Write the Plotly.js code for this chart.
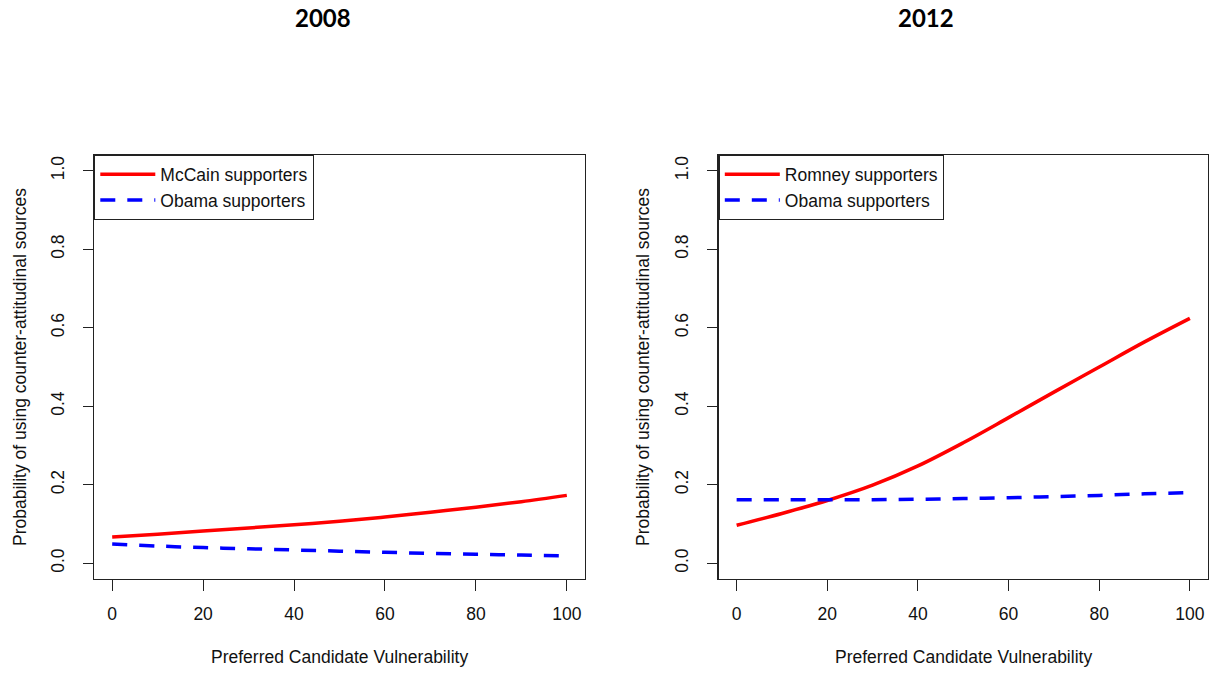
<!DOCTYPE html>
<html><head><meta charset="utf-8">
<script src="https://cdn.plot.ly/plotly-3.0.1.min.js"></script>
<style>html,body{margin:0;padding:0;background:#fff}#chart{width:1212px;height:673px}</style>
</head><body><div id="chart"></div>
<script>
// ---- data ----
const vulnerability = [0, 10, 20, 30, 40, 50, 60, 70, 80, 90, 100];
const mccain2008 = [0.067, 0.074, 0.082, 0.090, 0.098, 0.107, 0.118, 0.130, 0.143, 0.157, 0.173];
const obama2008  = [0.049, 0.044, 0.040, 0.037, 0.034, 0.031, 0.028, 0.025, 0.023, 0.021, 0.019];
const romney2012 = [0.097, 0.127, 0.160, 0.199, 0.248, 0.307, 0.371, 0.436, 0.500, 0.564, 0.624];
const obama2012  = [0.162, 0.162, 0.162, 0.162, 0.163, 0.165, 0.167, 0.170, 0.173, 0.177, 0.180];
const xTicks = [0, 20, 40, 60, 80, 100];
const yTicks = [0, 0.2, 0.4, 0.6, 0.8, 1.0];
const yTickText = ['0.0', '0.2', '0.4', '0.6', '0.8', '1.0'];
const panelTitles = ['2008', '2012'];
const xTitle = 'Preferred Candidate Vulnerability';
const yTitle = 'Probability of using counter-attitudinal sources';

// ---- layout helpers ----
const W = 1212, H = 673;
const px = v => v / W, py = v => 1 - v / H;
const FONT = 'Liberation Sans, Arial, sans-serif';
const fs = 17.5;

const redLine = {color: '#FF0000', width: 3.5, shape: 'spline', smoothing: 1};
const blueLine = {color: '#0000FF', width: 3.5, dash: '15px,12px', shape: 'spline', smoothing: 1};

const traces = [
  {x: vulnerability, y: mccain2008, xaxis: 'x', yaxis: 'y', mode: 'lines', name: 'McCain supporters', legend: 'legend', line: redLine},
  {x: vulnerability, y: obama2008, xaxis: 'x', yaxis: 'y', mode: 'lines', name: 'Obama supporters', legend: 'legend', line: blueLine},
  {x: vulnerability, y: romney2012, xaxis: 'x2', yaxis: 'y2', mode: 'lines', name: 'Romney supporters', legend: 'legend2', line: redLine},
  {x: vulnerability, y: obama2012, xaxis: 'x2', yaxis: 'y2', mode: 'lines', name: 'Obama supporters', legend: 'legend2', line: blueLine}
];

function xAxis(domain, anchor) {
  return {
    domain: domain, anchor: anchor, range: [-4, 104], tickmode: 'array', tickvals: xTicks,
    ticks: 'outside', ticklen: 11, tickwidth: 1, tickcolor: '#222',
    showline: true, mirror: true, linecolor: '#222', linewidth: 1.3,
    showgrid: false, zeroline: false, ticklabelstandoff: 8,
    tickfont: {family: FONT, size: fs, color: '#111'}
  };
}
function yAxis(anchor) {
  return {
    domain: [1 - 579 / H, 1 - 155 / H], anchor: anchor, range: [-0.04, 1.04],
    tickmode: 'array', tickvals: yTicks, ticktext: yTickText, tickangle: -90,
    ticks: 'outside', ticklen: 10, tickwidth: 1, tickcolor: '#222',
    showline: true, mirror: true, linecolor: '#222', linewidth: 1.3,
    showgrid: false, zeroline: false, ticklabelstandoff: 12,
    tickfont: {family: FONT, size: fs, color: '#111'}
  };
}
function legendAt(xpx) {
  return {
    x: px(xpx), y: py(155), xanchor: 'left', yanchor: 'top',
    bgcolor: '#fff', bordercolor: '#222', borderwidth: 1.3,
    font: {family: FONT, size: fs, color: '#111'}, itemwidth: 55, tracegroupgap: 0
  };
}

const ann = (text, x, y, opts) => Object.assign({
  text: text, xref: 'paper', yref: 'paper', x: x, y: y, xanchor: 'center', yanchor: 'middle',
  showarrow: false, font: {family: FONT, size: fs, color: '#111'}
}, opts || {});

const layout = {
  width: W, height: H, margin: {l: 0, r: 0, t: 0, b: 0},
  paper_bgcolor: '#fff', plot_bgcolor: '#fff', showlegend: true,
  xaxis: xAxis([94 / W, 585 / W], 'y'),
  yaxis: yAxis('x'),
  xaxis2: xAxis([718.5 / W, 1208 / W], 'y2'),
  yaxis2: yAxis('x2'),
  legend: legendAt(94),
  legend2: legendAt(718.5),
  annotations: [
    ann(panelTitles[0], px(323), py(17), {font: {family: 'Lato, Open Sans, sans-serif', size: 24, color: '#000', weight: 'bold'}}),
    ann(panelTitles[1], px(926), py(17), {font: {family: 'Lato, Open Sans, sans-serif', size: 24, color: '#000', weight: 'bold'}}),
    ann(xTitle, px(339), py(657)),
    ann(xTitle, px(963.5), py(657)),
    ann(yTitle, px(20), py(367), {textangle: -90}),
    ann(yTitle, px(643), py(367), {textangle: -90})
  ]
};

Plotly.newPlot('chart', traces, layout, {staticPlot: true, displayModeBar: false});
</script></body></html>
